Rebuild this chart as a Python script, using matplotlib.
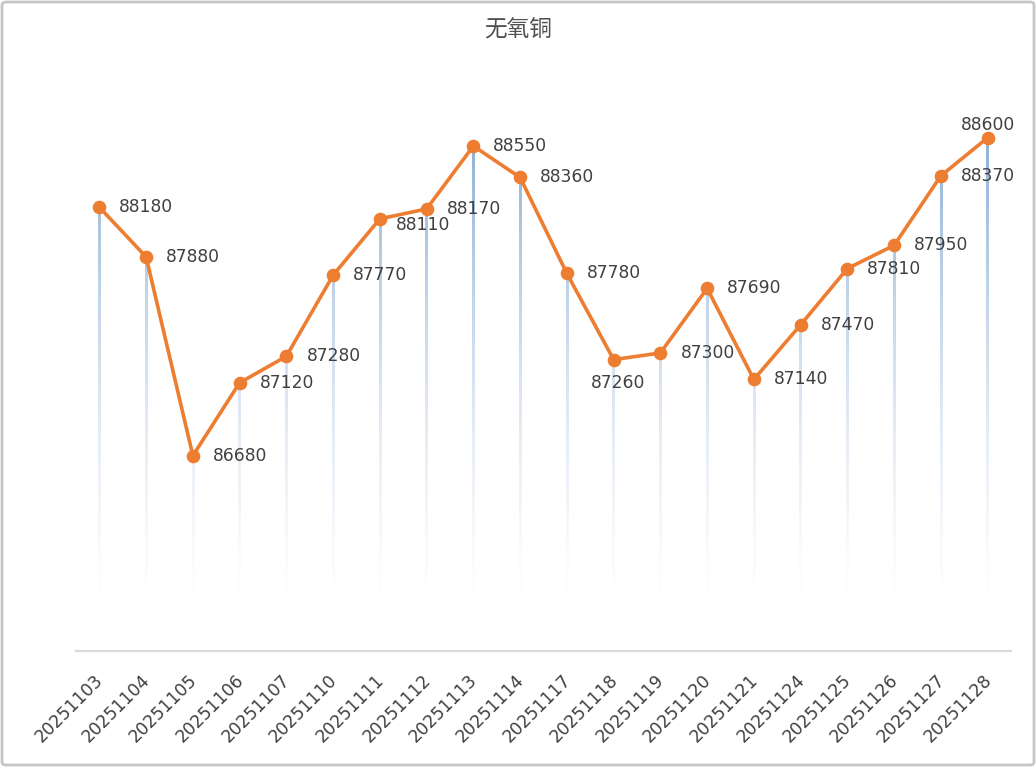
import numpy as np
import matplotlib
matplotlib.use("Agg")
import matplotlib.pyplot as plt
import matplotlib.transforms as mtransforms
from matplotlib.patches import FancyBboxPatch
from matplotlib.colors import LinearSegmentedColormap

plt.rcParams['font.family'] = ['Noto Sans CJK SC', 'DejaVu Sans']

title = "无氧铜"
dates = ["20251103", "20251104", "20251105", "20251106", "20251107", "20251110",
         "20251111", "20251112", "20251113", "20251114", "20251117", "20251118",
         "20251119", "20251120", "20251121", "20251124", "20251125", "20251126",
         "20251127", "20251128"]
prices = [88180, 87880, 86680, 87120, 87280, 87770, 88110, 88170, 88550, 88360,
          87780, 87260, 87300, 87690, 87140, 87470, 87810, 87950, 88370, 88600]

# label placement (style): (dx px, dy px, ha)
placements = [(20, 0, 'left')] * len(prices)
placements = list(placements)
placements[6] = (16, -6, 'left')
placements[11] = (4, -23, 'center')
placements[19] = (0, 13, 'center')

W, H = 1036, 781
fig = plt.figure(figsize=(W / 100, H / 100), dpi=100)
fig.patch.set_facecolor('white')

border = FancyBboxPatch((2 / W, 1 - 765 / H), (1032 / W), (763 / H),
                        boxstyle="round,pad=0,rounding_size=0.004",
                        transform=fig.transFigure, fill=False,
                        edgecolor='#c6c6c6', linewidth=2, zorder=0)
fig.patches.append(border)

ax_left, ax_right = 76 / W, 1011 / W
ax_bottom, ax_top = 1 - 651 / H, 1 - 71.5 / H
ax = fig.add_axes([ax_left, ax_bottom, ax_right - ax_left, ax_top - ax_bottom])

ymin, ymax = 85500, 89000
x = np.arange(len(dates))

# gradient drop lines: thin bars filled by a clipped vertical gradient
fade_bottom = 85680
fade_top = 88650
bar_w = 2.6 / ((ax_right - ax_left) * W / len(dates))
bars = ax.bar(x, np.array(prices) - fade_bottom, bottom=fade_bottom, width=bar_w,
              color='none', edgecolor='none', zorder=1)
cmap = LinearSegmentedColormap.from_list('fade', ['#ffffff', '#8cafd5'])
grad = np.clip(np.linspace(0, 1, 256), 0, 1).reshape(-1, 1) ** 1.5
for b in bars:
    im = ax.imshow(grad, cmap=cmap, vmin=0, vmax=1, aspect='auto', origin='lower',
                   extent=(-0.5, len(dates) - 0.5, fade_bottom, fade_top),
                   interpolation='bilinear', zorder=1)
    im.set_clip_path(b)
ax.set_xlim(-0.5, len(dates) - 0.5)
ax.set_ylim(ymin, ymax)

ax.plot(x, prices, color='#ED7D31', lw=2.6, marker='o', markersize=8.8,
        markerfacecolor='#ED7D31', markeredgecolor='#ED7D31', zorder=3,
        solid_joinstyle='round')

for xi, yi, (dx, dy, ha) in zip(x, prices, placements):
    ax.annotate(f"{yi}", (xi, yi), xytext=(dx, dy), textcoords='offset pixels',
                ha=ha, va='center', fontsize=12.3, color='#404040', zorder=4,
                family=['DejaVu Sans'])

for s in ['top', 'right', 'left']:
    ax.spines[s].set_visible(False)
ax.spines['bottom'].set_color('#d9d9d9')
ax.spines['bottom'].set_linewidth(1.6)
ax.set_yticks([])
ax.set_xticks(x)
ax.set_xticklabels(dates, rotation=45, ha='right', rotation_mode='anchor',
                   fontsize=12.4, color='#404040', family=['DejaVu Sans'])
ax.tick_params(axis='x', length=0, pad=14.5)
shift = mtransforms.ScaledTranslation(-5 / 100, 0, fig.dpi_scale_trans)
for lbl in ax.get_xticklabels():
    lbl.set_transform(lbl.get_transform() + shift)

fig.text(0.5, 1 - 30 / H, title, ha='center', va='center', fontsize=16.3,
         color='#505050')

fig.savefig("out.png", dpi=100, facecolor='white')
